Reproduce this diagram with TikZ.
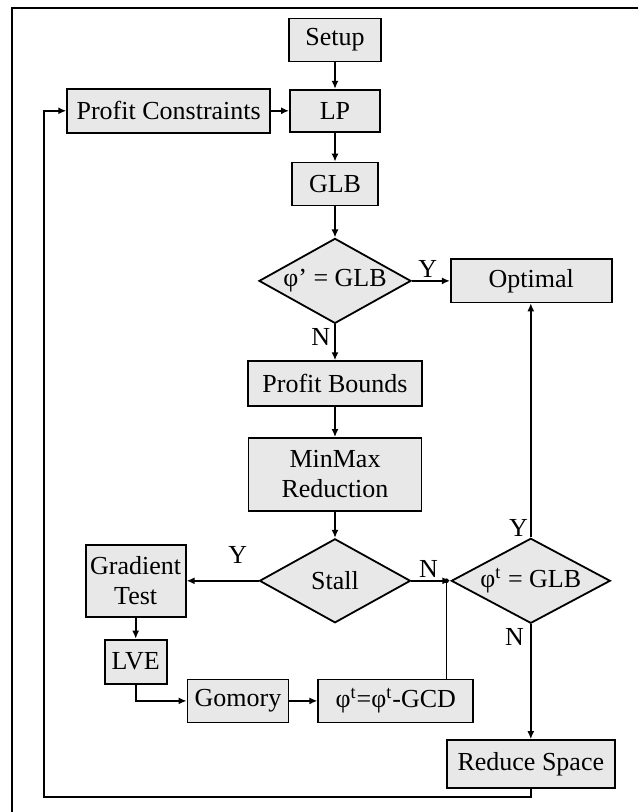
\documentclass[tikz,border=0pt]{standalone}
\usepackage{fontspec}
\setmainfont{Liberation Serif}
\usetikzlibrary{arrows.meta}
\usetikzlibrary{positioning}
\usetikzlibrary{shapes.geometric}

\begin{document}
\begin{tikzpicture}[
        font=\fontsize{13}{15}\selectfont,
        node distance=14pt,
        block/.style={
            draw,
            fill=black!9,
            align=center,
            line width=0.9pt,
            inner sep=2pt
        },
        decision/.style={
            draw,
            diamond,
            aspect=1.8,
            fill=black!9,
            line width=0.9pt,
            inner sep=0pt
        },
        arrow/.style={-{Latex[length=4pt,width=3.5pt]}, line width=0.9pt},
        line/.style={line width=0.9pt}
    ]
        \useasboundingbox (0,0) rectangle (319pt,-406pt);
        \draw[line width=1.1pt] (319pt,-4pt) -- (6pt,-4pt) -- (6pt,-406pt);

        \node[block, minimum width=46pt, minimum height=21.5pt] (setup) at (167.5pt,-20pt) {Setup};
        \node[block, minimum width=45pt, minimum height=21pt, below=13.25pt of setup] (lp) {LP};
        \node[block, minimum width=101.5pt, minimum height=22pt, left=9pt of lp] (pc) {Profit Constraints};
        \node[block, minimum width=43pt, minimum height=21.5pt, below=14.5pt of lp] (glb) {GLB};
        \node[decision, minimum width=76pt, minimum height=42.5pt, below=15.5pt of glb] (test1) {φ' = GLB};
        \node[block, minimum width=80.5pt, minimum height=21.5pt, right=19pt of test1] (optimal) {Optimal};
        \node[block, minimum width=87pt, minimum height=22.5pt, below=18pt of test1] (bounds) {Profit Bounds};
        \node[block, minimum width=86.5pt, minimum height=36.5pt, below=15pt of bounds] (minmax) {MinMax\\Reduction};
        \node[decision, minimum width=75.5pt, minimum height=42pt, below=13pt of minmax] (stall) {Stall};
        \node[block, minimum width=50pt, minimum height=36pt, left=36pt of stall] (gradient) {Gradient\\Test};
        \node[block, minimum width=31pt, minimum height=22pt, below=10.5pt of gradient] (lve) {LVE};
        \node[block, minimum width=50.5pt, minimum height=21.5pt, below right=-3pt and 9.5pt of lve] (gomory) {Gomory};
        \node[block, minimum width=77.5pt, minimum height=21.5pt, right=14pt of gomory] (gcd) {φ\textsuperscript{t}=φ\textsuperscript{t}-GCD};
        \node[decision, minimum width=79.5pt, minimum height=42.5pt, right=19.5pt of stall] (test2) {φ\textsuperscript{t} = GLB};
        \node[block, minimum width=84pt, minimum height=24pt, below=57.5pt of test2] (reduce) {Reduce Space};

        \coordinate (join) at ([xshift=-2pt]test2.west);
        \coordinate (loop) at (22pt,-398.5pt);

        \draw[arrow] (setup) -- (lp);
        \draw[arrow] (pc) -- (lp);
        \draw[arrow] (lp) -- (glb);
        \draw[arrow] (glb) -- (test1);
        \draw[arrow] (test1) -- node[pos=0.42, above, inner sep=1pt] {Y} (optimal);
        \draw[arrow] (test1) -- node[pos=0.36, left, inner sep=2pt] {N} (bounds);
        \draw[arrow] (bounds) -- (minmax);
        \draw[arrow] (minmax) -- (stall);
        \draw[arrow] (stall) -- node[pos=0.29, above=5pt] {Y} (gradient);
        \draw[arrow] (stall) -- node[pos=0.44, above, inner sep=1pt] {N} (test2);
        \draw[line] (gcd.north -| join) -- (join);
        \fill (join) circle (1.2pt);
        \draw[arrow] (test2.north) -- node[pos=0.04, left, inner sep=1pt] {Y} (test2.north |- optimal.south);
        \draw[arrow] (test2) -- node[pos=0.11, left, inner sep=3pt] {N} (reduce);
        \draw[arrow] (lve.north |- gradient.south) -- (lve);
        \draw[arrow] (lve) |- (gomory);
        \draw[arrow] (gomory) -- (gcd);
        \draw[arrow] (reduce) |- (loop) |- (pc);
\end{tikzpicture}
\end{document}
